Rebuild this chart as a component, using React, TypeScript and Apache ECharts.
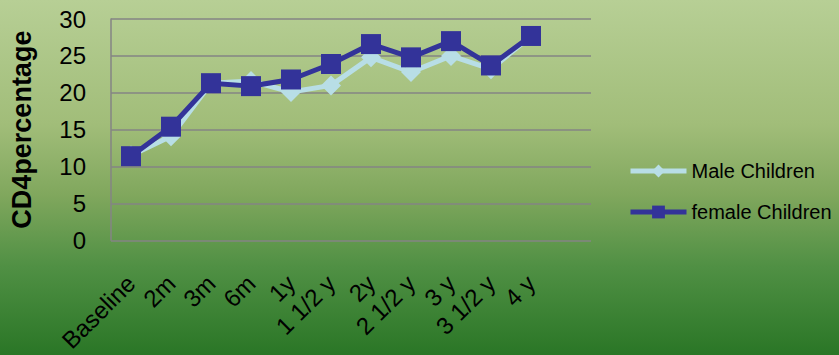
import React, { useEffect, useRef } from "react";
import * as echarts from "echarts";

const categories = ["Baseline", "2m", "3m", "6m", "1y", "1 1/2 y", "2y", "2 1/2 y", "3 y", "3 1/2 y", "4 y", ""];
const maleValues = [11.5, 14.1, 21.3, 21.6, 20.1, 21.0, 24.8, 22.8, 25.0, 23.2, 27.7, null];
const femaleValues = [11.4, 15.4, 21.3, 20.9, 21.8, 23.9, 26.6, 24.8, 27.0, 23.7, 27.7, null];
const yTicks = { min: 0, max: 30, interval: 5 };

export default function App() {
  const ref = useRef<HTMLDivElement>(null);
  useEffect(() => {
    if (!ref.current) return;
    const chart = echarts.init(ref.current, null, { renderer: "svg" });
    chart.setOption({
      animation: false,
      backgroundColor: new echarts.graphic.LinearGradient(0, 0, 0, 1, [
        { offset: 0, color: "#b7cf95" },
        { offset: 0.35, color: "#a1bd79" },
        { offset: 0.55, color: "#80a75d" },
        { offset: 0.75, color: "#509044" },
        { offset: 1, color: "#2a7626" },
      ]),
      textStyle: { fontFamily: "Liberation Sans, Arial, sans-serif" },
      grid: { left: 111, top: 19, width: 480, height: 224 },
      legend: {
        orient: "vertical",
        left: 628,
        top: 161,
        padding: 0,
        itemWidth: 56,
        itemHeight: 16,
        itemGap: 21,
        lineStyle: { width: 5 },
        textStyle: { fontSize: 20, color: "#000" },
        data: ["Male Children", "female Children"],
      },
      xAxis: {
        type: "category",
        data: categories,
        boundaryGap: true,
        axisLine: { show: false },
        axisTick: { show: false },
        axisLabel: {
          interval: 0,
          rotate: 45,
          margin: 39,
          fontSize: 24,
          color: "#000",
        },
      },
      yAxis: {
        type: "value",
        min: yTicks.min,
        max: yTicks.max,
        interval: yTicks.interval,
        name: "CD4percentage",
        nameLocation: "middle",
        nameGap: 76,
        nameTextStyle: { fontSize: 27, fontWeight: "bold", color: "#000" },
        axisLine: { show: true, lineStyle: { color: "#858585", width: 1.5 } },
        axisTick: { show: false },
        axisLabel: { fontSize: 24, color: "#000", margin: 25 },
        splitLine: { show: true, lineStyle: { color: "#858585", width: 1.5 } },
      },
      series: [
        {
          name: "Male Children",
          type: "line",
          data: maleValues,
          color: "#b8dee6",
          symbol: "diamond",
          symbolSize: 20,
          lineStyle: { width: 5, color: "#b8dee6" },
          itemStyle: { color: "#b8dee6" },
        },
        {
          name: "female Children",
          type: "line",
          data: femaleValues,
          color: "#333399",
          symbol: "rect",
          symbolSize: 20,
          lineStyle: { width: 5, color: "#333399" },
          itemStyle: { color: "#333399" },
        },
      ],
    });
    return () => chart.dispose();
  }, []);
  return (
    <div
      ref={ref}
      style={{ position: "fixed", left: 0, top: 0, width: 839, height: 355 }}
    />
  );
}
